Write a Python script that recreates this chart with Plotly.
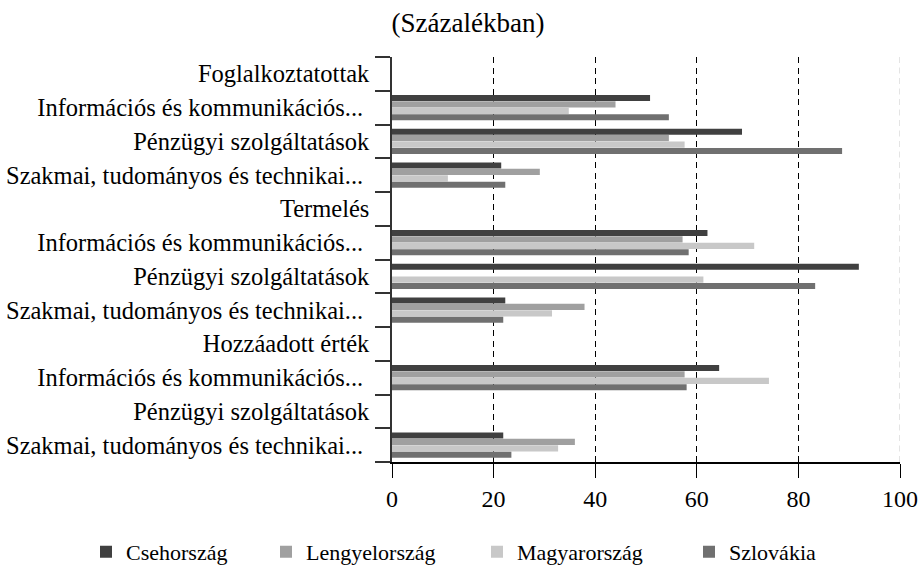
import plotly.graph_objects as go

categories = [
    "Foglalkoztatottak",
    "Információs és kommunikációs...\u00a0",
    "Pénzügyi szolgáltatások",
    "Szakmai, tudományos és technikai...\u00a0",
    "Termelés",
    "Információs és kommunikációs...\u00a0",
    "Pénzügyi szolgáltatások",
    "Szakmai, tudományos és technikai...\u00a0",
    "Hozzáadott érték",
    "Információs és kommunikációs...\u00a0",
    "Pénzügyi szolgáltatások",
    "Szakmai, tudományos és technikai...\u00a0",
]
cat_ids = [f"c{i}" for i in range(len(categories))]

series_names = ["Csehország", "Lengyelország", "Magyarország", "Szlovákia"]
csehorszag = [None, 50.8, 68.9, 21.5, None, 62.1, 91.9, 22.3, None, 64.4, None, 21.9]
lengyelorszag = [None, 44.0, 54.5, 29.1, None, 57.2, None, 37.9, None, 57.6, None, 36.0]
magyarorszag = [None, 34.8, 57.6, 11.0, None, 71.3, 61.3, 31.5, None, 74.2, None, 32.7]
szlovakia = [None, 54.5, 88.6, 22.3, None, 58.4, 83.3, 21.9, None, 58.0, None, 23.5]
series_values = [csehorszag, lengyelorszag, magyarorszag, szlovakia]
colors = ["#404040", "#a0a0a0", "#c8c8c8", "#707070"]
legend_x = [86, 266, 477, 689]

x_ticks = [0, 20, 40, 60, 80, 100]

FONT = "Liberation Serif"

fig = go.Figure()
for i, (name, vals, col) in enumerate(zip(series_names, series_values, colors)):
    fig.add_trace(go.Bar(
        y=cat_ids, x=vals, name=name, orientation="h",
        marker=dict(color=col, line=dict(width=0)),
        legend="legend" if i == 0 else f"legend{i+1}",
    ))

legend_common = dict(orientation="h", xref="container", yref="container",
                     xanchor="left", yanchor="middle", y=0.025,
                     font=dict(family=FONT, size=22, color="black"),
                     itemwidth=30, bgcolor="rgba(0,0,0,0)")
legends = {}
for i, lx in enumerate(legend_x):
    key = "legend" if i == 0 else f"legend{i+1}"
    legends[key] = dict(legend_common, x=lx / 918)

fig.update_layout(
    width=918, height=566,
    paper_bgcolor="white", plot_bgcolor="white",
    font=dict(family=FONT, size=24, color="black"),
    title=dict(text="(Százalékban)", xref="container", x=468 / 918, xanchor="center",
               yref="container", y=0.961, yanchor="middle",
               font=dict(family=FONT, size=27, color="black")),
    margin=dict(l=392, r=18, t=57, b=104),
    barmode="group", bargap=0.24, bargroupgap=0.04,
    showlegend=True,
    **legends,
)

fig.add_vline(x=x_ticks[-1], line=dict(color="#c8c8c8", width=1, dash="6px,4.5px"), layer="below")

fig.update_xaxes(
    range=[x_ticks[0], x_ticks[-1]], tickmode="array", tickvals=x_ticks,
    ticks="outside", ticklen=14, tickcolor="black", tickwidth=1,
    showline=True, linecolor="black", linewidth=1.5,
    showgrid=True, gridcolor="black", griddash="6px,4.5px", gridwidth=1,
    zeroline=False, automargin=False,
    tickfont=dict(family=FONT, size=24, color="black"),
)
fig.update_yaxes(
    type="category", categoryorder="array", categoryarray=cat_ids,
    autorange="reversed", tickmode="array", tickvals=cat_ids, ticktext=categories,
    ticks="outside", tickson="boundaries", ticklen=15, tickcolor="#333333", tickwidth=1.5,
    ticklabelstandoff=16, automargin=False,
    showline=True, linecolor="#333333", linewidth=1.5, showgrid=False,
    tickfont=dict(family=FONT, size=24.5, color="black"),
)

fig.write_html("out.html", config={"displayModeBar": False},
               post_script="document.body.style.margin='0';")
